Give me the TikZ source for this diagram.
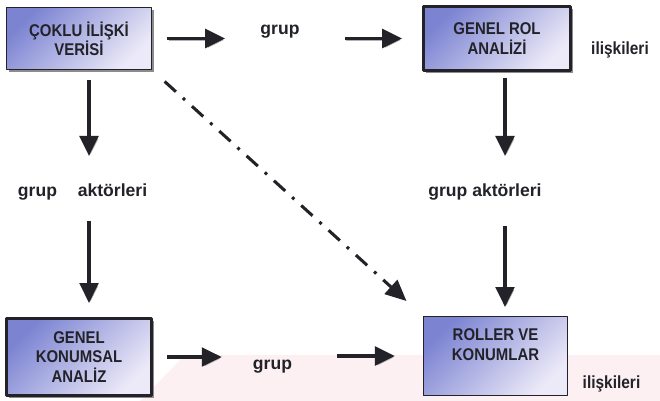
\documentclass[tikz,border=0pt]{standalone}
\usepackage{fontspec}
\setmainfont{Liberation Sans}
\newfontfamily\kutufont{Liberation Sans}[FakeStretch=0.88]
\usetikzlibrary{arrows.meta,shadows}
\definecolor{kutumavi}{RGB}{124,132,210}
\definecolor{kutuacik}{RGB}{236,234,248}
\definecolor{murekkep}{RGB}{34,34,40}
\definecolor{filigran}{RGB}{253,240,242}

\begin{document}
\begin{tikzpicture}[x=.03cm,y=-.03cm,line join=round,font=\bfseries,
	kutu/.style={draw=murekkep,top color=kutumavi,bottom color=kutuacik,shading angle=45,
		align=center,text=murekkep,font=\kutufont\bfseries\fontsize{14.5}{16.5}\selectfont},
	golge/.style={drop shadow={shadow xshift=2pt,shadow yshift=-2pt,fill=black!45,opacity=1}},
	yazi/.style={inner sep=0pt,anchor=base,text=murekkep,font=\bfseries\fontsize{15}{18}\selectfont},
	ok/.style={line width=2.6pt,draw=murekkep,-{Triangle[length=17pt,width=16pt]},
		preaction={draw=black!30,transform canvas={shift={(1.3pt,-1.3pt)}}}},
	okkesik/.style={line width=2.6pt,draw=murekkep,dash pattern=on 13pt off 8pt on 2.5pt off 8pt,
		-{Triangle[length=18pt,width=16pt]}}]
	\useasboundingbox (0,0) rectangle (660,401);
	% filigran
	\fill[filigran] (140,401)--(185,355)--(660,355)--(660,401)--cycle;
	% kutular
	\node[kutu,golge,line width=1.2pt,minimum width=4.34cm,minimum height=1.85cm] (veri) at (79,38.5) {ÇOKLU İLİŞKİ\\VERİSİ};
	\node[kutu,golge,line width=2.5pt,minimum width=4.41cm,minimum height=1.92cm] (rol) at (497,38.5) {GENEL ROL\\ANALİZİ};
	\node[kutu,golge,line width=2.5pt,minimum width=4.35cm,minimum height=2.31cm] (konum) at (79,357) {GENEL\\KONUMSAL\\ANALİZ};
	\node[kutu,line width=1.2pt,minimum width=4.31cm,minimum height=2.36cm] (roller) at (495.5,356) {ROLLER VE\\KONUMLAR\\[3pt]\mbox{}};
	% yazilar
	\node[yazi] (grupUst) at (280,35) {grup};
	\node[yazi] (grupSol) at (37.5,197) {grup};
	\node[yazi] (aktSol) at (112.5,197) {aktörleri};
	\node[yazi] (aktSag) at (485,197) {grup aktörleri};
	\node[yazi] (grupAlt) at (272.5,370) {grup};
	\node[yazi,font=\kutufont\bfseries\fontsize{15}{18}\selectfont] (iliskiUst) at (620,55) {ilişkileri};
	\node[yazi,font=\kutufont\bfseries\fontsize{15}{18}\selectfont] (iliskiAlt) at (611.5,389) {ilişkileri};
	\coordinate (solK) at (89,0);
	\coordinate (sagK) at (505,0);
	% oklar
	\draw[ok,shorten <=12.8pt,shorten >=30pt] (veri.east) -- (veri.east -| grupUst.west);
	\draw[ok,shorten <=38.4pt,shorten >=17pt] (grupUst.east |- rol.west) -- (rol.west);
	\draw[ok,shorten <=8.5pt,shorten >=24pt] (veri.south -| solK) -- (aktSol.north -| solK);
	\draw[ok,shorten <=20.5pt,shorten >=12pt] (aktSol.south -| solK) -- (konum.north -| solK);
	\draw[ok,shorten <=5pt,shorten >=24pt] (rol.south -| sagK) -- (aktSag.north -| sagK);
	\draw[ok,shorten <=21.5pt,shorten >=7.7pt] (aktSag.south -| sagK) -- (roller.north -| sagK);
	\draw[ok,shorten <=12pt,shorten >=26.5pt] (konum.east) -- (konum.east -| grupAlt.west);
	\draw[ok,shorten <=38.4pt,shorten >=24pt] (grupAlt.east |- roller.west) -- (roller.west);
	\draw[okkesik,shorten <=14.5pt,shorten >=19pt] (veri.south east) -- (roller.north west);
\end{tikzpicture}
\end{document}
